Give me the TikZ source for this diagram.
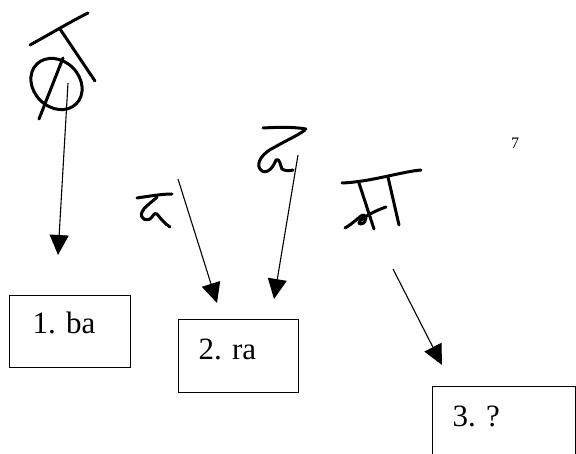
\documentclass[tikz,border=0pt]{standalone}
\usepackage{fontspec}
\setmainfont{Liberation Serif}
\usetikzlibrary{arrows.meta}
\frenchspacing
\begin{document}
\begin{tikzpicture}[x=1pt,y=-1pt,
  ink/.style={line width=3pt, line cap=round, line join=round},
  conn/.style={line width=1.1pt, -{Triangle[length=20pt,width=19pt]}},
  boxnode/.style={draw, line width=1.2pt, anchor=north west, inner ysep=0pt,
    align=left, font=\fontsize{31}{36}\selectfont}]
\useasboundingbox (0,0) rectangle (576,454);
\clip (0,0) rectangle (576,454);
\fill[white] (0,0) rectangle (576,454);

% boxes
\node[boxnode, inner xsep=23pt, text width=75pt, text height=38pt, text depth=34pt] (b1) at (9,295) {1. ba};
\node[boxnode, inner xsep=20pt, text width=80pt, text height=40pt, text depth=33pt] (b2) at (178,319) {2. ra};
\node[boxnode, inner xsep=20pt, text width=103pt, text height=40pt, text depth=60pt] (b3) at (432,386) {3. ?};

% page number
\node[font=\fontsize{16}{18}\selectfont, inner sep=0pt] (pg) at (515,143) {7};

% glyph 1
\draw[ink] (30,45) .. controls (50,34) and (70,22) .. (88,13);
\draw[ink] (60,29) -- (95,81);
\draw[ink, rotate around={-45:(56.5,84)}] (56.5,84) ellipse (28pt and 23pt);
\draw[ink] (63,58) -- (39,119);

% glyph 2
\draw[ink] (137,198) .. controls (150,196) and (162,194) .. (172,194);
\draw[ink] (157,197) .. controls (151,203) and (144,207) .. (142,212)
  .. controls (139,219) and (148,223) .. (152,217)
  .. controls (154,214) and (156,212) .. (157,214)
  .. controls (161,219) and (165,224) .. (170,227);

% glyph 3
\draw[ink] (263,128) .. controls (280,127) and (295,127) .. (306,129);
\draw[ink] (305,130) .. controls (297,136) and (285,141) .. (275,147)
  .. controls (262,153) and (256,163) .. (260,169)
  .. controls (264,175) and (272,171) .. (276,160)
  .. controls (280,158) and (280,165) .. (282,169)
  .. controls (285,171) and (289,171) .. (293,170);

% glyph 4
\draw[ink] (342,183) .. controls (370,182) and (400,172) .. (421,170);
\draw[ink] (359,183) -- (374,229);
\draw[ink] (388,177) -- (399,225);
\draw[ink] (345,228) .. controls (352,224) and (357,219) .. (361,216)
  .. controls (367,212) and (368,223) .. (361,224)
  .. controls (354,224) and (366,214) .. (386,207);

% arrows
\coordinate (s1) at (68,83);   \coordinate (e1) at (58,255);
\coordinate (s2) at (178,179); \coordinate (e2) at (217,303);
\coordinate (s3) at (298,155); \coordinate (e3) at (274,299);
\coordinate (s4) at (393,269); \coordinate (e4) at (442,365);
\draw[conn] (s1) -- (e1);
\draw[conn] (s2) -- (e2);
\draw[conn] (s3) -- (e3);
\draw[conn] (s4) -- (e4);
\end{tikzpicture}
\end{document}
